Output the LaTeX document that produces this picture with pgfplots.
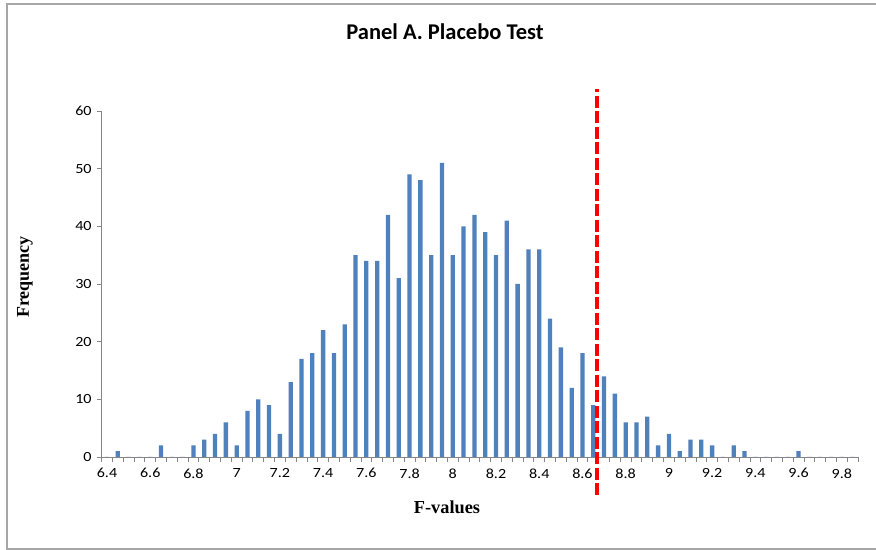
\documentclass[border=0pt]{standalone}
\usepackage{pgfplots}
\pgfplotsset{compat=1.18}
\usepackage{pgfplotstable}
\usepackage{fontspec}
\setmainfont{Carlito}
\newfontfamily\tickfamily[FakeStretch=1.15]{Carlito}
\newfontfamily\timesfont{Liberation Serif}
\definecolor{barblue}{HTML}{4F81BD}
\definecolor{axgray}{HTML}{868686}
\definecolor{framegray}{HTML}{A6A6A6}
\newcommand{\tf}[1]{{\tickfamily\fontsize{14bp}{16bp}\selectfont #1}}
\pgfplotstableread{
x y
6.40 0
6.45 1
6.50 0
6.55 0
6.60 0
6.65 2
6.70 0
6.75 0
6.80 2
6.85 3
6.90 4
6.95 6
7.00 2
7.05 8
7.10 10
7.15 9
7.20 4
7.25 13
7.30 17
7.35 18
7.40 22
7.45 18
7.50 23
7.55 35
7.60 34
7.65 34
7.70 42
7.75 31
7.80 49
7.85 48
7.90 35
7.95 51
8.00 35
8.05 40
8.10 42
8.15 39
8.20 35
8.25 41
8.30 30
8.35 36
8.40 36
8.45 24
8.50 19
8.55 12
8.60 18
8.65 9
8.70 14
8.75 11
8.80 6
8.85 6
8.90 7
8.95 2
9.00 4
9.05 1
9.10 3
9.15 3
9.20 2
9.25 0
9.30 2
9.35 1
9.40 0
9.45 0
9.50 0
9.55 0
9.60 1
9.65 0
9.70 0
9.75 0
9.80 0
9.85 0
}\datatable
\begin{document}
\begin{tikzpicture}[x=1bp,y=1bp]
\useasboundingbox (0,0) rectangle (876,550);
\fill[white] (0,0) rectangle (876,550);
\draw[framegray, line width=2bp] (876,545.5) -- (6.7,545.5) -- (6.7,1) -- (876,1);
\begin{axis}[
  at={(101.6bp,93bp)}, anchor=south west,
  scale only axis, width=756.4bp, height=346bp,
  xmin=6.375, xmax=9.875, ymin=0, ymax=60,
  axis lines*=left,
  axis line style={axgray, line width=0.8bp},
  tick align=outside, major tick length=5bp,
  tick style={axgray, line width=0.8bp},
  xtick={6.375,6.425,...,9.876},
  xticklabels={},
  extra x ticks={6.4,6.6,6.8,7,7.2,7.4,7.6,7.8,8,8.2,8.4,8.6,8.8,9,9.2,9.4,9.6,9.8},
  extra x tick labels={\tf{6.4},\tf{6.6},\tf{6.8},\tf{7},\tf{7.2},\tf{7.4},\tf{7.6},\tf{7.8},\tf{8},\tf{8.2},\tf{8.4},\tf{8.6},\tf{8.8},\tf{9},\tf{9.2},\tf{9.4},\tf{9.6},\tf{9.8}},
  extra x tick style={major tick length=0pt, xticklabel style={yshift=-8bp}},
  ytick={0,10,20,30,40,50,60},
  yticklabels={\tf{0},\tf{10},\tf{20},\tf{30},\tf{40},\tf{50},\tf{60}},
  yticklabel style={xshift=-1.5bp},
  tick label style={text=black},
  clip=false,
]
\addplot[ybar, bar width=4.3bp, fill=barblue, draw=none] table[x=x, y=y] {\datatable};
\addplot[red, line width=4bp, dash pattern=on 12bp off 3.5bp] coordinates {(8.666,-6.6) (8.666,63.8)};
\end{axis}
\node[font=\fontsize{22.5bp}{24bp}\selectfont\bfseries] at (445,518) {Panel A. Placebo Test};
\node[font=\timesfont\fontsize{18bp}{20bp}\selectfont\bfseries, rotate=90] at (25,273) {Frequency};
\node[font=\timesfont\fontsize{18.3bp}{20bp}\selectfont\bfseries] at (447,43) {F-values};
\end{tikzpicture}
\end{document}
